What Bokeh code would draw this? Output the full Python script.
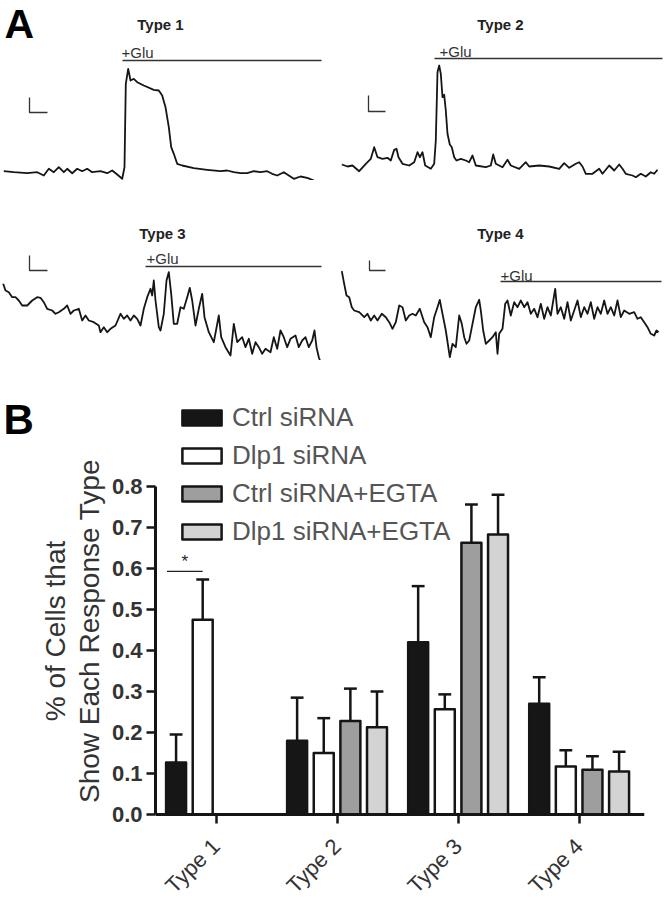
import math
from bokeh.plotting import figure
from bokeh.models import Range1d, Label, FixedTicker, Legend, LegendItem, LinearAxis
from bokeh.layouts import column, row
from bokeh.embed import file_html
from bokeh.resources import INLINE
from bokeh.core.properties import value

FONT = "Liberation Sans"

# ---------------- Panel A: example traces (time, dF in arbitrary units) ----------------
t1 = [3.3, 13.3, 26.7, 36.7, 43.3, 48.3, 53.3, 58.3, 63.3, 66.7, 71.7, 76.7, 81.7, 86.7, 91.7, 100, 106.7, 111.7,
      116.7, 121.7, 124, 125.3, 127.7, 130, 133.3, 136.7, 143.3, 153.3, 158.3, 161.7, 165, 168.3, 170.7, 173.3,
      176.7, 181.7, 193.3, 206.7, 220, 226.7, 233.3, 240, 246.7, 253.3, 260, 266.7, 271.7, 276.7, 283.3, 288.3,
      293.3, 300, 306.7, 311.7, 316.7]
f1 = [29.3, 28.3, 27.3, 28.3, 25.0, 31.7, 28.3, 33.3, 28.3, 31.7, 27.3, 31.7, 29.3, 31.7, 28.3, 29.3, 27.3, 30,
      26, 21.7, 33.3, 116.7, 131.7, 120, 121.7, 118.3, 115, 110.7, 110, 105, 93.3, 73.3, 53.3, 46.7,
      36.7, 35, 32.3, 30.7, 29.3, 30, 28.3, 27.3, 27.3, 29.3, 28.3, 29.3, 26.7, 25, 28.3, 25,
      21.7, 24, 22.7, 20.7, 18.3]

t2 = [9.3, 15, 20, 26.7, 33.3, 38.3, 41.7, 45, 50, 55, 58.3, 61.7, 64, 66, 70, 76.7, 81.7, 85, 87.3, 90, 92.7,
      98.3, 101.7, 103.3, 105, 106.7, 108.3, 110, 111.7, 113.3, 115, 117.3, 119.3, 121.7, 124, 128.3, 133.3,
      136.7, 140, 143.3, 153.3, 158.3, 160.7, 163.3, 170, 175, 178.3, 186.7, 193.3, 196.7, 206.7, 216.7, 226.7,
      231.7, 236.7, 243.3, 246.7, 250, 253.3, 260, 266.7, 270, 276.7, 281.7, 286.7, 290, 293.3, 300, 303.3,
      308.3, 313.3, 318.3, 321.7, 325]
f2 = [36, 34, 35, 29.3, 36.7, 41.7, 53.3, 43.3, 41.7, 42.7, 40, 50.7, 51.7, 43.3, 36.7, 35, 38.3, 48.3, 43.3, 48.3, 35,
      31.7, 36.7, 60, 128.3, 135, 126.7, 103.3, 105.7, 90, 66.7, 56, 53.3, 43.3, 40, 41.7, 40,
      38.3, 45, 35, 33.3, 35, 46, 36.7, 33.3, 40.7, 35, 31.7, 38.3, 34, 35, 34, 31.7,
      37.3, 32.7, 36.7, 38.3, 34, 26.7, 26.7, 31.7, 26.7, 35, 30, 36, 31.7, 26.7, 25, 23.3,
      26.7, 24, 28.3, 26.7, 30.7]

t3 = [2.7, 5, 8.3, 11.7, 15, 18.3, 21.7, 26.7, 31.7, 36.7, 40, 43.3, 46.7, 51.7, 55, 58.3, 63.3, 66.7, 70, 73.3,
      78.3, 81.7, 85, 88.3, 93.3, 98.3, 100, 103.3, 106.7, 110, 115, 120, 123.3, 126.7, 130, 133.3, 136.7, 140,
      143.3, 146.7, 150, 151.7, 153.3, 155, 158.3, 160, 163.3, 166, 168.3, 170.7, 173.3, 176.7, 180, 183.3,
      186.7, 189.3, 191.7, 195, 198.3, 201.7, 204, 208.3, 213.3, 218.3, 220.7, 225, 230, 233.3, 236.7, 241.7,
      245, 248.3, 251.7, 255, 258.3, 261.7, 265, 270, 273.3, 276.7, 280, 283.3, 286.7, 290, 295, 298.3, 301.7,
      305, 308.3, 311.7, 314, 316, 318.3, 320]
f3 = [96.7, 90, 88.3, 83.3, 83.3, 80, 75, 75, 80, 83.3, 82.7, 78.3, 71.7, 70, 66.7, 68.3, 71.7, 75, 66.7, 70,
      71.7, 60, 65, 60, 58.3, 55, 48.3, 53.3, 48.3, 51.7, 55, 66.7, 61.7, 65, 60, 65, 61.7, 55,
      71.7, 83.3, 91.7, 85, 100, 80, 53.3, 50, 66.7, 100, 108.3, 86.7, 56.7, 56.7, 73.3, 71.7,
      83.3, 92.7, 80, 55, 71.7, 86.7, 63.3, 48.3, 38.3, 65, 43.3, 33.3, 25, 56.7, 38.3, 43.3,
      33.3, 41.7, 26.7, 38.3, 33.3, 26.7, 31.7, 28.3, 43.3, 31.7, 50, 43.3, 33.3, 41.7, 45, 33.3, 40,
      43.3, 33.3, 40, 50, 33.3, 23.3, 18.3]

t4 = [9.3, 11.7, 14, 16.7, 19.3, 21.7, 26.7, 31.7, 35, 38.3, 41.7, 45, 49.3, 53.3, 56.7, 60, 63.3, 66.7, 70, 73.3,
      76.7, 80, 83.3, 87.3, 91.7, 95, 98.3, 101.7, 105, 107.3, 110, 113.3, 117.3, 120, 123.3, 126.7, 129.3,
      131.7, 134, 136.7, 140, 143.3, 146.7, 148.3, 150.7, 153.3, 156.7, 160, 163.3, 165, 166.7, 170, 172.7,
      175, 178.3, 181.7, 185, 188.3, 191.7, 195, 198.3, 201.7, 205, 208.3, 211.7, 215, 218.3, 222.7, 225,
      228.3, 231.7, 235, 238.3, 241.7, 245, 248.3, 251.7, 255, 258.3, 261.7, 265, 268.3, 271.7, 275, 278.3,
      281.7, 285, 288.3, 291.7, 296.7, 301.7, 305, 308.3, 311.7, 315, 318.3, 321.7, 324, 326]
f4 = [109.3, 96.7, 85, 83.3, 73.3, 70, 68.3, 63.3, 66.7, 60, 65, 60, 66.7, 63.3, 58.3, 51.7, 58.3, 75, 73.3, 60,
      65, 66.7, 65, 71.7, 58.3, 53.3, 43.3, 63.3, 73.3, 80.7, 66.7, 50, 23.3, 36.7, 33.3, 65, 56.7,
      43.3, 36.7, 40, 56.7, 73.3, 80.7, 70, 50, 36.7, 40, 43.3, 48.3, 26.7, 46.7, 51.7, 76.7,
      80, 65, 78.3, 73.3, 80, 73.3, 78.3, 66.7, 71.7, 63.3, 76.7, 61.7, 73.3, 65, 91.7, 66.7,
      73.3, 61.7, 78.3, 60, 70, 80, 63.3, 73.3, 66.7, 78.3, 61.7, 73.3, 66.7, 80, 66.7, 73.3,
      65, 80, 63.3, 70, 66.7, 68.3, 61.7, 63.3, 58.3, 53.3, 46.7, 45, 50, 48.3]

trace_titles = ["Type 1", "Type 2", "Type 3", "Type 4"]
glu_label = "+Glu"

TRACE_COLOR = "#151515"


def trace_panel(t, f, title, title_xy, glu_xy, glu_span, glu_y, sb_x, sb_y, sb_x2, panel_letter=None):
    p = figure(width=332, height=180, x_range=Range1d(0, 332), y_range=Range1d(20, 200),
               x_axis_type=None, y_axis_type=None, toolbar_location=None, output_backend="svg",
               min_border=0, outline_line_color=None, title=None)
    p.grid.visible = False
    p.line(t, f, line_color=TRACE_COLOR, line_width=1.8, line_join="round")
    # glutamate application bar
    p.line(glu_span, [glu_y, glu_y], line_color="#333333", line_width=1.5)
    # scale bar
    p.line([sb_x, sb_x, sb_x2], [sb_y[0], sb_y[1], sb_y[1]], line_color="#333333", line_width=1.3)
    p.add_layout(Label(x=title_xy[0], y=title_xy[1], text=title, text_align="center",
                       text_baseline="middle", text_font=FONT, text_font_style="bold",
                       text_font_size="15px", text_color="#222222"))
    p.add_layout(Label(x=glu_xy[0], y=glu_xy[1], text=glu_label, text_align="left",
                       text_baseline="middle", text_font=FONT, text_font_size="15px",
                       text_color="#333333"))
    if panel_letter:
        p.add_layout(Label(x=4, y=157, x_units="screen", y_units="screen", text=panel_letter,
                           text_align="left", text_baseline="middle", text_font=FONT,
                           text_font_style="bold", text_font_size="41px", text_color="#000000"))
    return p


a1 = trace_panel(t1, f1, trace_titles[0], (160, 176), (121, 148), [122, 321], 140,
                 29, (103, 88), 47, panel_letter="A")
a2 = trace_panel(t2, f2, trace_titles[1], (168, 176), (107, 149), [102, 330], 142,
                 36, (105, 89), 53)
a3 = trace_panel(t3, f3, trace_titles[2], (162, 147), (146, 122), [145, 321], 114,
                 29, (125, 110), 47)
a4 = trace_panel(t4, f4, trace_titles[3], (168, 147), (168, 105), [168, 329], 99,
                 37, (120, 110), 53)

# ---------------- Panel B: bar chart ----------------
categories = ["Type 1", "Type 2", "Type 3", "Type 4"]
series_names = ["Ctrl siRNA", "Dlp1 siRNA", "Ctrl siRNA+EGTA", "Dlp1 siRNA+EGTA"]
ctrl_mean = [0.127, 0.180, 0.420, 0.270]
ctrl_sem = [0.068, 0.105, 0.137, 0.065]
dlp1_mean = [0.475, 0.150, 0.257, 0.117]
dlp1_sem = [0.098, 0.085, 0.036, 0.040]
ctrl_egta_mean = [None, 0.228, 0.663, 0.109]
ctrl_egta_sem = [None, 0.079, 0.093, 0.033]
dlp1_egta_mean = [None, 0.213, 0.683, 0.105]
dlp1_egta_sem = [None, 0.087, 0.097, 0.048]
y_ticks = [0.0, 0.1, 0.2, 0.3, 0.4, 0.5, 0.6, 0.7, 0.8]
y_title_line1 = "% of Cells that"
y_title_line2 = "Show Each Response Type"
sig_level = 0.593
sig_text = "*"

fills = ["#161616", "#ffffff", "#9e9e9e", "#d3d3d3"]
offsets = [-0.33, -0.11, 0.11, 0.33]
BAR_W = 0.165
CAP = 0.053

# narrow strip holding the panel letter
lb = figure(width=36, height=541, x_range=Range1d(0, 36), y_range=Range1d(0, 541),
            x_axis_type=None, y_axis_type=None, toolbar_location=None, output_backend="svg",
            min_border=0, outline_line_color=None, title=None)
lb.grid.visible = False
lb.add_layout(Label(x=3, y=482, text="B", text_align="left", text_baseline="middle", text_font=FONT,
                    text_font_style="bold", text_font_size="42px", text_color="#000000"))

# frame fills the canvas below; the x axis sits at y = 0 via fixed_location
pb = figure(width=628, height=541, x_range=Range1d(-0.5, 3.54), y_range=Range1d(-0.2122, 1.1073),
            toolbar_location=None, output_backend="svg", min_border_left=115, min_border_right=20,
            min_border_top=0, min_border_bottom=0, outline_line_color=None, title=None,
            x_axis_location=None)
pb.grid.visible = False

means = [ctrl_mean, dlp1_mean, ctrl_egta_mean, dlp1_egta_mean]
sems = [ctrl_sem, dlp1_sem, ctrl_egta_sem, dlp1_egta_sem]
legend_items = []
for k in range(4):
    xs, tops, ups = [], [], []
    for i in range(len(categories)):
        if means[k][i] is None:
            continue
        xs.append(i + offsets[k])
        tops.append(means[k][i])
        ups.append(means[k][i] + sems[k][i])
    pb.segment(x0=xs, y0=tops, x1=xs, y1=ups, line_color="#151515", line_width=2.5)
    pb.segment(x0=[x - CAP for x in xs], y0=ups, x1=[x + CAP for x in xs], y1=ups,
               line_color="#151515", line_width=2.5)
    r = pb.vbar(x=xs, top=tops, bottom=0, width=BAR_W, fill_color=fills[k], line_color="#151515",
                line_width=2.5, line_join="round")
    legend_items.append(LegendItem(label=series_names[k], renderers=[r]))

# significance bracket between Ctrl and Dlp1 for Type 1
sx0 = 0 + offsets[0] - 0.075
sx1 = 0 + offsets[1]
pb.segment(x0=[sx0], y0=[sig_level], x1=[sx1], y1=[sig_level], line_color="#222222", line_width=1.2)
pb.text(x=[(sx0 + sx1) / 2], y=[sig_level + 0.025], text=[sig_text], text_align="center",
        text_baseline="middle", text_font=value(FONT), text_font_size="17px", text_color="#222222")

legend = Legend(items=legend_items, location=(22, 354), orientation="vertical",
                glyph_width=49, glyph_height=19, label_height=19, spacing=7, padding=0, margin=0,
                label_standoff=6, border_line_alpha=0, background_fill_alpha=0,
                label_text_font=FONT, label_text_font_size="26px", label_text_color="#555555")
pb.add_layout(legend, "center")

# y axis (second title line as its axis label)
yax = pb.yaxis[0]
yax.bounds = (0, 0.8)
yax.ticker = FixedTicker(ticks=y_ticks)
yax.major_label_overrides = {v: f"{v:.1f}" for v in y_ticks}
yax.minor_tick_line_color = None
yax.major_tick_in = 0
yax.major_tick_out = 9
yax.major_tick_line_width = 2.5
yax.axis_line_width = 3
yax.axis_line_color = "#151515"
yax.major_tick_line_color = "#151515"
yax.major_label_text_font = FONT
yax.major_label_text_font_style = "bold"
yax.major_label_text_font_size = "22px"
yax.major_label_text_color = "#333333"
yax.major_label_standoff = 4
yax.axis_label = y_title_line2
yax.axis_label_text_font = FONT
yax.axis_label_text_font_style = "normal"
yax.axis_label_text_font_size = "28px"
yax.axis_label_text_color = "#333333"
yax.axis_label_standoff = 4

# outer invisible axis carrying the first title line
yax2 = LinearAxis(bounds=(0, 0.8), ticker=FixedTicker(ticks=[]), axis_line_color=None,
                  major_tick_line_color=None, minor_tick_line_color=None,
                  major_label_text_font_size="0px", axis_label=y_title_line1,
                  axis_label_text_font=FONT, axis_label_text_font_style="normal",
                  axis_label_text_font_size="28px", axis_label_text_color="#333333",
                  axis_label_standoff=0)
pb.add_layout(yax2, "left")

# x axis placed at y = 0
xax = LinearAxis(fixed_location=0)
xax.ticker = FixedTicker(ticks=list(range(len(categories))))
xax.major_label_overrides = {i: c for i, c in enumerate(categories)}
xax.major_label_orientation = math.pi / 4
xax.major_label_text_font = FONT
xax.major_label_text_font_size = "22px"
xax.major_label_text_color = "#333333"
xax.major_label_standoff = 19
xax.minor_tick_line_color = None
xax.major_tick_in = 0
xax.major_tick_out = 9
xax.major_tick_line_width = 2.5
xax.axis_line_width = 3
xax.axis_line_color = "#151515"
xax.major_tick_line_color = "#151515"
pb.add_layout(xax, "below")

layout = column(row(a1, a2), row(a3, a4), row(lb, pb))
open("out.html", "w").write(file_html(layout, INLINE))
